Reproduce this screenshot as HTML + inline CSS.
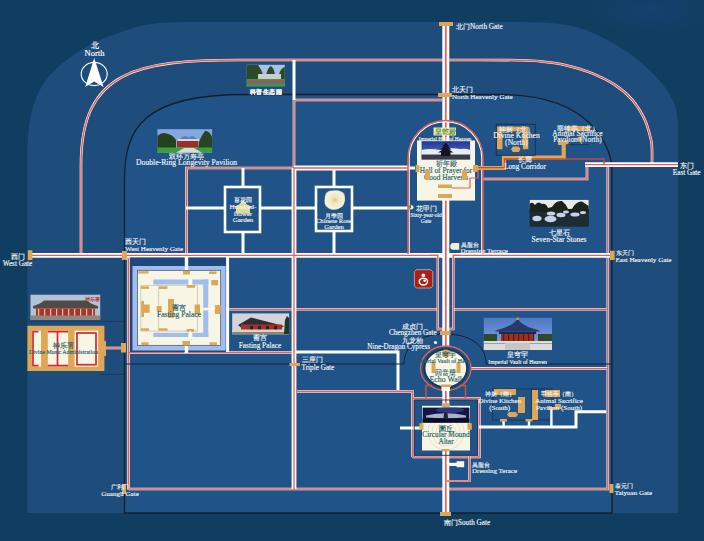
<!DOCTYPE html>
<html><head><meta charset="utf-8">
<style>
html,body{margin:0;padding:0;width:704px;height:541px;overflow:hidden;background:#103e60;}
svg{display:block;}
text{font-family:"Liberation Serif",serif;stroke-width:0.15;}
</style></head><body>
<svg width="704" height="541" viewBox="0 0 704 541">
<defs>
 <linearGradient id="sky" x1="0" y1="0" x2="0" y2="1"><stop offset="0" stop-color="#5d86c9"/><stop offset="1" stop-color="#b9cdea"/></linearGradient>
 <linearGradient id="nightsky" x1="0" y1="0" x2="0" y2="1"><stop offset="0" stop-color="#0d1440"/><stop offset="0.45" stop-color="#3a4f9a"/><stop offset="0.6" stop-color="#aab6dc"/><stop offset="0.75" stop-color="#242a50"/><stop offset="1" stop-color="#0a0c22"/></linearGradient>
 <radialGradient id="rose" cx="0.45" cy="0.45" r="0.6"><stop offset="0" stop-color="#f7f0c8"/><stop offset="0.6" stop-color="#e9dca0"/><stop offset="1" stop-color="#b9a86a"/></radialGradient>
</defs>
<rect x="0" y="0" width="704" height="541" fill="#103e60"/>
<radialGradient id="blob" cx="0.5" cy="0.5" r="0.5"><stop offset="0" stop-color="#1a3f78" stop-opacity="0.7"/><stop offset="1" stop-color="#1a3f78" stop-opacity="0"/></radialGradient>
<ellipse cx="650" cy="10" rx="60" ry="26" fill="url(#blob)"/>
<path d="M27.5,513 L27.5,200.0 C27.5,191.7 27.1,163.4 27.5,150.0 C27.9,136.6 28.3,129.0 30.0,119.8 C31.7,110.6 34.2,102.4 37.5,94.9 C40.8,87.4 44.6,81.2 50.0,74.9 C55.4,68.7 62.4,62.8 69.9,57.4 C77.4,52.0 86.6,46.5 94.9,42.4 C103.2,38.2 111.5,35.4 119.8,32.5 C128.1,29.6 136.4,26.7 144.8,25.0 C153.2,23.3 160.8,23.0 170.0,22.5 C179.2,22.0 185.0,22.1 200.0,22.0 C215.0,21.9 250.0,22.0 260.0,22.0 L470.0,22.0 C481.7,22.1 522.1,21.6 540.0,22.5 C557.9,23.4 567.0,25.0 577.4,27.5 C587.8,30.0 594.0,33.4 602.4,37.5 C610.8,41.6 620.5,47.2 628.0,52.3 C635.5,57.4 641.5,62.7 647.2,67.9 C652.9,73.1 657.9,78.4 662.0,83.4 C666.1,88.4 669.2,93.3 671.6,97.9 C674.0,102.5 675.4,105.7 676.5,111.0 C677.6,116.3 677.8,123.5 678.0,130.0 C678.2,136.5 678.0,146.7 678.0,150.0 L678,513 Z" fill="#1e4d7b"/>
<path d="M124.5,513 L124.5,180 C124.5,128.7 142.6,94.5 245,94.5 L500,94.5 C595.2,94.5 612,151.1 612,170 L612,513 Z" fill="#205387" stroke="#13202c" stroke-width="1.3"/>

<g fill="none" stroke="#fff" stroke-width="2.6">
<path d="M81,257 L81,165 C81,70.5 136.6,60 240,60 L480,60 C486.7,60.0 510.0,60.0 520.0,60.2 C530.0,60.4 532.5,60.4 540.0,61.2 C547.5,62.0 556.7,63.0 565.0,64.9 C573.3,66.8 581.6,69.1 589.9,72.4 C598.2,75.7 607.8,80.3 614.9,84.9 C622.0,89.5 627.3,94.1 632.3,99.9 C637.3,105.7 641.7,113.1 644.8,119.8 C647.9,126.5 649.8,134.8 651.0,139.8 C652.2,144.8 651.8,146.1 652.0,150.0 C652.2,153.9 652.0,160.8 652.0,163.0"/>
<path d="M294,100 L442,100"/>
<path d="M186.5,254 L186.5,168 L294,168 M294,168 L294,100"/>
<path d="M128.5,489 L128.5,257"/>
<path d="M220,309.3 L437.8,309.3 M453.3,309.3 L607.8,309.3"/>
<path d="M607.8,165 L607.8,489 L128.5,489"/>
<path d="M483,179 L587,179 L587,165"/>
<path d="M104,348 L121,348"/>
<path d="M128.5,352.5 L294,352.5"/>
<path d="M471,368.4 L607.8,368.4"/>
<path d="M297,391.5 L412.4,391.5 L412.4,457"/>
<path d="M412.4,398.3 L479.4,398.3 L479.4,457 L412.4,457"/>
</g><g fill="none" stroke="#e4605a" stroke-width="1.5">
<path d="M81,257 L81,165 C81,70.5 136.6,60 240,60 L480,60 C486.7,60.0 510.0,60.0 520.0,60.2 C530.0,60.4 532.5,60.4 540.0,61.2 C547.5,62.0 556.7,63.0 565.0,64.9 C573.3,66.8 581.6,69.1 589.9,72.4 C598.2,75.7 607.8,80.3 614.9,84.9 C622.0,89.5 627.3,94.1 632.3,99.9 C637.3,105.7 641.7,113.1 644.8,119.8 C647.9,126.5 649.8,134.8 651.0,139.8 C652.2,144.8 651.8,146.1 652.0,150.0 C652.2,153.9 652.0,160.8 652.0,163.0"/>
<path d="M294,100 L442,100"/>
<path d="M186.5,254 L186.5,168 L294,168 M294,168 L294,100"/>
<path d="M128.5,489 L128.5,257"/>
<path d="M220,309.3 L437.8,309.3 M453.3,309.3 L607.8,309.3"/>
<path d="M607.8,165 L607.8,489 L128.5,489"/>
<path d="M483,179 L587,179 L587,165"/>
<path d="M104,348 L121,348"/>
<path d="M128.5,352.5 L294,352.5"/>
<path d="M471,368.4 L607.8,368.4"/>
<path d="M297,391.5 L412.4,391.5 L412.4,457"/>
<path d="M412.4,398.3 L479.4,398.3 L479.4,457 L412.4,457"/>
</g>
<g fill="none" stroke="#fff" stroke-width="3">
<path d="M294,60 L294,100"/>
<path d="M243,168 L243,186 M243,232 L243,254 M186,208 L224,208 M261,208 L294,208"/>
<path d="M334,168 L334,186 M334,231 L334,254 M296,208 L315,208 M353,208 L408,208"/>
<path d="M408,168 L415,168"/>
<path d="M186,255 L186,266 M186,350 L186,353"/>
<path d="M294,352 L398,352 L398,390"/>
<path d="M606,411.7 L576,411.7 L576,427 L479,427"/>
<path d="M400,428 L421,428"/>
</g>
<g fill="none" stroke="#fff" stroke-width="4.8">
<path d="M32,255.3 L610,255.3"/>
<path d="M294,168 L408,168 M294,168 L294,489"/>
<path d="M585,164.7 L678,164.7"/>
</g><g fill="none" stroke="#e4605a" stroke-width="1.3">
<path d="M32,255.3 L610,255.3"/>
<path d="M294,168 L408,168 M294,168 L294,489"/>
<path d="M585,164.7 L678,164.7"/>
</g>
<path d="M437.8,255.4 L437.8,329 L453.3,329 L453.3,255.4" fill="none" stroke="#fff" stroke-width="2.4"/>
<rect x="438.5" y="254" width="14" height="2.8" fill="#fff"/>
<path d="M430,255.4 L437.8,255.4 L437.8,329 L453.3,329 L453.3,255.4 L460,255.4" fill="none" stroke="#e4605a" stroke-width="1.4"/>
<g fill="none" stroke="#fff" stroke-width="7">
<path d="M445.8,22 L445.8,513"/>
</g><g fill="none" stroke="#e4605a" stroke-width="1.7">
<path d="M445.8,22 L445.8,513"/>
</g>
<path d="M409.2,254 L409.2,158 A36.3,36.3 0 0 1 481.8,158 L481.8,254" fill="none" stroke="#fff" stroke-width="1.2"/>
<path d="M408,254 L408,158 A37.5,37.5 0 0 1 483,158 L483,254" fill="none" stroke="#e4605a" stroke-width="1.5"/>
<path d="M124.5,364 L404,364 C404,345 420,334 445,334 C470,334 486,345 486,364 L612,364" fill="none" stroke="#142330" stroke-width="1"/>
<rect x="225" y="187" width="35" height="45" fill="none" stroke="#fff" stroke-width="2.6"/>
<rect x="316" y="187" width="36" height="44" fill="none" stroke="#fff" stroke-width="2.6"/>
<rect x="130.00" y="257.50" width="96.00" height="94.50" fill="#1d497c" />
<rect x="132.50" y="266.00" width="93.20" height="84.50" fill="#a2bcec" />
<rect x="137.50" y="270.30" width="83.20" height="75.00" fill="#f7f6e5" stroke="#38506a" stroke-width="0.7"/>
<rect x="153.30" y="279.50" width="35.00" height="5.00" fill="#a2bcec" />
<rect x="192.40" y="279.50" width="15.90" height="5.00" fill="#a2bcec" />
<rect x="203.20" y="279.50" width="5.10" height="28.30" fill="#a2bcec" />
<rect x="203.20" y="310.30" width="5.10" height="26.70" fill="#a2bcec" />
<rect x="192.40" y="332.80" width="15.90" height="4.20" fill="#a2bcec" />
<rect x="153.30" y="332.80" width="35.00" height="4.20" fill="#a2bcec" />
<rect x="140.8" y="285.3" width="56.6" height="45.7" fill="none" stroke="#c4c4b4" stroke-width="0.8"/>
<line x1="158.6" y1="285.3" x2="158.6" y2="331" stroke="#c4c4b4" stroke-width="0.8"/>
<rect x="138.30" y="271.20" width="10.30" height="2.40" fill="#dea757" />
<rect x="183.00" y="271.00" width="7.00" height="3.50" fill="#dea757" />
<rect x="209.00" y="271.50" width="7.50" height="2.50" fill="#dea757" />
<rect x="211.30" y="280.00" width="6.70" height="5.30" fill="#dea757" />
<rect x="140.80" y="286.30" width="8.20" height="2.60" fill="#dea757" />
<rect x="159.00" y="286.30" width="8.50" height="2.60" fill="#dea757" />
<rect x="186.60" y="285.00" width="8.40" height="2.80" fill="#dea757" />
<rect x="141.30" y="301.00" width="2.70" height="16.00" fill="#dea757" />
<rect x="141.30" y="304.50" width="8.30" height="8.30" fill="#dea757" />
<rect x="156.60" y="306.00" width="5.00" height="5.00" fill="#dea757" />
<rect x="168.00" y="299.00" width="6.00" height="18.80" fill="#dea757" />
<rect x="194.60" y="304.50" width="5.40" height="10.00" fill="#dea757" />
<rect x="215.00" y="305.00" width="5.70" height="9.00" fill="#dea757" />
<rect x="140.80" y="328.30" width="8.20" height="2.50" fill="#dea757" />
<rect x="159.00" y="328.30" width="8.50" height="2.50" fill="#dea757" />
<rect x="186.60" y="329.00" width="7.40" height="3.00" fill="#dea757" />
<rect x="141.30" y="342.30" width="7.30" height="2.70" fill="#dea757" />
<rect x="182.50" y="341.00" width="7.50" height="4.30" fill="#dea757" />
<rect x="209.60" y="342.30" width="7.40" height="2.70" fill="#dea757" />
<g fill="none" stroke="#fff" stroke-width="3.4">
<path d="M186.5,256 L186.5,270 M186.5,346 L186.5,353"/>
</g>
<g fill="none" stroke="#fff" stroke-width="3">
<path d="M227.6,257 L227.6,352"/>
</g>
<g fill="none" stroke="#fff" stroke-width="1.6">
<path d="M190.3,279 L190.3,285 M190.3,331 L190.3,338 M205.7,307.8 L205.7,310.3 M208,309 L215,309"/>
</g>
<text x="179.00" y="309.50" font-size="7.4" text-anchor="middle" fill="#246068" stroke="#246068" stroke-width="0.3" >斋宫</text>
<text x="179.00" y="317.00" font-size="7.6" text-anchor="middle" fill="#246068" stroke="#246068" stroke-width="0.3" >Fasting Palace</text>
<path d="M28,321.4 L124,321.4 M100,374.4 L124,374.4" stroke="#1a3550" stroke-width="0.8" fill="none"/>
<rect x="27.40" y="325.80" width="77.00" height="45.20" fill="#dea757" />
<rect x="32.00" y="330.60" width="9.00" height="36.10" fill="#f7f6e5" />
<rect x="47.80" y="330.60" width="20.40" height="36.10" fill="#f7f6e5" />
<rect x="74.50" y="330.60" width="23.60" height="36.10" fill="#f7f6e5" />
<path d="M38.5,331.6 L33,331.6 L33,365.7 L38.5,365.7" fill="none" stroke="#d22a2c" stroke-width="1.7"/>
<path d="M47.8,331.6 L68.2,331.6 M57.5,331.6 L57.5,365.7 M47.8,365.7 L68.2,365.7" fill="none" stroke="#d22a2c" stroke-width="1.7"/>
<rect x="77" y="333" width="19" height="31.7" fill="none" stroke="#d22a2c" stroke-width="1.7"/>
<rect x="102.00" y="341.00" width="4.00" height="15.00" fill="#dea757" />
<text x="63.50" y="347.50" font-size="6.8" text-anchor="middle" fill="#2a6066" stroke="#2a6066" stroke-width="0.3" >神乐署</text>
<text x="63.50" y="353.50" font-size="5.9" text-anchor="middle" fill="#2a6066" stroke="#2a6066" stroke-width="0.3" >Divine Music Administration</text>
<rect x="417.00" y="140.50" width="58.00" height="60.10" fill="#f7f6e5" />
<rect x="433.50" y="127.50" width="22.50" height="8.00" fill="#f1e6b0" />
<text x="445.00" y="134.20" font-size="6.5" text-anchor="middle" fill="#3f8a3a" stroke="#3f8a3a" stroke-width="0.3" >皇乾殿</text>
<text x="445.00" y="140.50" font-size="5.4" text-anchor="middle" fill="#f4f0da" stroke="#f4f0da" stroke-width="0.3" >Imperial Hall of Heaven</text>
<text x="446.00" y="165.50" font-size="7" text-anchor="middle" fill="#246068" stroke="#246068" stroke-width="0.3" >祈年殿</text>
<text x="446.00" y="173.00" font-size="7.4" text-anchor="middle" fill="#246068" stroke="#246068" stroke-width="0.3" >Hall of Prayer for</text>
<text x="446.00" y="180.00" font-size="7.4" text-anchor="middle" fill="#246068" stroke="#246068" stroke-width="0.3" >Good Harvests</text>
<rect x="415.60" y="165.00" width="3.90" height="7.00" fill="#dea757" />
<rect x="473.00" y="165.00" width="5.00" height="7.00" fill="#dea757" />
<rect x="425.00" y="170.00" width="5.00" height="10.00" fill="#dea757" />
<rect x="462.00" y="170.00" width="5.00" height="10.00" fill="#dea757" />
<rect x="438.00" y="184.50" width="14.00" height="3.50" fill="#dea757" />
<rect x="438.00" y="194.00" width="14.00" height="4.00" fill="#dea757" />
<path d="M452,188 L470,188 L470,178 L478,178 L478,168 L483,168" fill="none" stroke="#e4605a" stroke-width="1.2"/>
<path d="M476,168 L504,168 L504,157.5 L563.7,157.5 L563.7,143" fill="none" stroke="#dea757" stroke-width="4.2"/>
<rect x="558.00" y="140.50" width="10.50" height="4.50" fill="#dea757" />
<path d="M478,167.6 L504.5,167.6 L504.5,159 L604,159 L604,165" fill="none" stroke="#cc4a36" stroke-width="1.3"/>
<rect x="496.25" y="124.25" width="39" height="31" fill="none" stroke="#15304f" stroke-width="0.9"/>
<rect x="497.00" y="131.30" width="5.50" height="17.95" fill="#dea757" />
<rect x="522.80" y="131.30" width="5.50" height="17.95" fill="#dea757" />
<rect x="502.50" y="126.60" width="20.30" height="4.70" fill="#dea757" />
<rect x="497.00" y="126.60" width="5.50" height="4.70" fill="#dea757" />
<rect x="522.80" y="126.60" width="5.50" height="4.70" fill="#dea757" />
<polygon points="512.8,146.5 518.8,146.5 520.5,149.25 518.8,152 512.8,152 511,149.25" fill="#dea757"/>
<rect x="566.50" y="126.00" width="23.50" height="5.00" fill="#dea757" />
<circle cx="579.8" cy="139.1" r="2.7" fill="#dea757"/>
<line x1="566" y1="144.6" x2="589" y2="144.6" stroke="#15304f" stroke-width="0.7"/>
<ellipse cx="445.8" cy="368.2" rx="25.2" ry="22.2" fill="#205387" stroke="#e4605a" stroke-width="1.3"/>
<ellipse cx="445.8" cy="368.3" rx="21.4" ry="18.9" fill="#f7f6e5" stroke="#17365a" stroke-width="2.1"/>
<rect x="441.50" y="386.00" width="8.50" height="5.00" fill="#fff" />
<circle cx="445.8" cy="353.5" r="4" fill="#dea757"/>
<rect x="431.50" y="362.00" width="4.00" height="11.00" fill="#dea757" />
<rect x="456.50" y="362.00" width="4.00" height="11.00" fill="#dea757" />
<rect x="441.00" y="384.50" width="10.00" height="2.50" fill="#dea757" />
<text x="445.80" y="356.50" font-size="6.6" text-anchor="middle" fill="#246068" stroke="#246068" stroke-width="0.3" >皇穹宇</text>
<text x="445.80" y="362.50" font-size="6" text-anchor="middle" fill="#246068" stroke="#246068" stroke-width="0.3" >Imperial Vault of Heaven</text>
<text x="445.80" y="374.50" font-size="6.6" text-anchor="middle" fill="#246068" stroke="#246068" stroke-width="0.3" >回音壁</text>
<text x="445.80" y="381.50" font-size="7.8" text-anchor="middle" fill="#246068" stroke="#246068" stroke-width="0.3" >Echo Wall</text>
<path d="M432,385.5 L426,385.5 L426,398 M459.5,385.5 L465.5,385.5 L465.5,398" fill="none" stroke="#d4503e" stroke-width="1.4"/>
<circle cx="435.5" cy="342.5" r="1.6" fill="#fff"/>
<rect x="414.2" y="400" width="63.4" height="55.3" fill="none" stroke="#17365a" stroke-width="0.9"/>
<rect x="422.00" y="405.80" width="48.00" height="44.70" fill="#f7f6e5" />
<circle cx="446" cy="432" r="6" fill="none" stroke="#cfcab0" stroke-width="0.5"/>
<circle cx="446" cy="432" r="10" fill="none" stroke="#cfcab0" stroke-width="0.5"/>
<circle cx="446" cy="432" r="14" fill="none" stroke="#cfcab0" stroke-width="0.5"/>
<circle cx="446" cy="432" r="18" fill="none" stroke="#cfcab0" stroke-width="0.5"/>
<rect x="441.80" y="403.40" width="7.80" height="3.60" fill="#dea757" />
<rect x="419.40" y="423.20" width="4.00" height="6.60" fill="#dea757" />
<rect x="467.40" y="423.20" width="4.40" height="6.60" fill="#dea757" />
<rect x="441.80" y="449.00" width="7.80" height="2.40" fill="#dea757" />
<text x="446.00" y="430.50" font-size="7" text-anchor="middle" fill="#246068" stroke="#246068" stroke-width="0.3" >圜丘</text>
<text x="446.00" y="437.00" font-size="7.4" text-anchor="middle" fill="#246068" stroke="#246068" stroke-width="0.3" >Circular Mound</text>
<text x="446.00" y="443.50" font-size="7.4" text-anchor="middle" fill="#246068" stroke="#246068" stroke-width="0.3" >Altar</text>
<g fill="none" stroke="#fff" stroke-width="2.2">
<path d="M469.4,456 L469.4,481 L446,481"/>
</g><g fill="none" stroke="#e4605a" stroke-width="1.3">
<path d="M469.4,456 L469.4,481 L446,481"/>
</g>
<rect x="448.80" y="462.80" width="8.20" height="3.20" fill="#f7f6e5" />
<rect x="456.60" y="461.20" width="7.60" height="6.00" fill="#f7f6e5" />
<path d="M450.3,245 L452,243.1 L459.2,243.1 L459.2,249.8 L452,249.8 L450.3,248 Z" fill="#f4f0d8"/>
<rect x="492.7" y="389" width="39.3" height="31" fill="none" stroke="#15304f" stroke-width="0.8"/>
<rect x="532" y="389" width="20" height="31" fill="none" stroke="#15304f" stroke-width="0.8"/>
<rect x="494.00" y="389.00" width="22.00" height="6.00" fill="#dea757" />
<rect x="518.00" y="397.00" width="7.00" height="16.00" fill="#dea757" />
<rect x="532.00" y="390.00" width="6.00" height="30.00" fill="#dea757" />
<rect x="545.00" y="390.00" width="15.00" height="7.00" fill="#dea757" />
<rect x="555.00" y="404.00" width="6.00" height="5.00" fill="#dea757" />
<polygon points="509,412 516,412 518,414.5 516,417 509,417 507,414.5" fill="#dea757"/>
<g fill="none" stroke="#fff" stroke-width="2.4">
<path d="M503.6,420 L503.6,427 M529,420 L529,427 M551.4,408 L551.4,427"/>
</g>
<rect x="500.00" y="419.00" width="7.00" height="2.50" fill="#dea757" />
<rect x="525.50" y="419.00" width="7.00" height="2.50" fill="#dea757" />
<rect x="548.00" y="407.00" width="7.00" height="2.50" fill="#dea757" />
<polygon points="416.4,269.7 430.8,269.7 432.8,271.7 432.8,286 430.8,288 416.4,288 414.4,286 414.4,271.7" fill="#ad1f16" stroke="#e6c0bc" stroke-width="0.7"/>
<circle cx="423.3" cy="275.4" r="1.8" fill="#fff"/>
<ellipse cx="423.4" cy="281.6" rx="4.1" ry="3.4" fill="none" stroke="#fff" stroke-width="1.5"/>
<circle cx="424.6" cy="280.8" r="1.3" fill="#fff"/>
<rect x="246.8" y="64.8" width="38" height="21.4" fill="#a9c1e6"/>
<path d="M246.8,81 L246.8,65 L258,65 Q262,70 263,75 L266,75 Q268,67 271,66 Q274,68 275,75 L279,74 Q281,68 284.8,67 L284.8,81 Z" fill="#2c4a26"/>
<rect x="258.00" y="74.00" width="23.00" height="5.00" fill="#c9ccd2" />
<rect x="246.80" y="79.00" width="38.00" height="7.20" fill="#3f9a3c" />
<rect x="246.80" y="80.50" width="38.00" height="1.50" fill="#b04a4a" />
<rect x="246.80" y="82.50" width="38.00" height="1.50" fill="#7a5a9a" />
<rect x="157.5" y="129.2" width="54.6" height="23.6" fill="#86a6e0"/>
<path d="M157.5,152 L157.5,136 Q162,131 168,134 Q173,135 176,140 L176,150 Z" fill="#24421f"/>
<path d="M212.1,152 L212.1,137 Q209,130 205,131 Q201,136 199,142 L198,150 Z" fill="#27461f"/>
<path d="M180,139 Q185,133 190,139 Z M187,139 Q192,133 197,139 Z" fill="#4c86c8"/>
<rect x="178.00" y="139.00" width="21.00" height="2.00" fill="#d8d8c8" />
<rect x="177.00" y="141.00" width="21.00" height="6.50" fill="#9c2e26" />
<rect x="157.50" y="147.50" width="54.60" height="5.30" fill="#3f9c3e" />
<path d="M176,152.8 L184,148 L194,148 L202,152.8 Z" fill="#d6dcd8"/>
<rect x="30.5" y="294.7" width="69.7" height="24.9" fill="#b4c2d6"/>
<path d="M33,306 Q40,304 44,300.5 L87,300.5 Q91,304 98,306 L98,308.5 L33,308.5 Z" fill="#4d4a48"/>
<rect x="36.00" y="308.50" width="59.00" height="7.50" fill="#a8342a" />
<rect x="38.00" y="309.00" width="1.20" height="7.00" fill="#d9c8b0" />
<rect x="44.00" y="309.00" width="1.20" height="7.00" fill="#d9c8b0" />
<rect x="50.00" y="309.00" width="1.20" height="7.00" fill="#d9c8b0" />
<rect x="56.00" y="309.00" width="1.20" height="7.00" fill="#d9c8b0" />
<rect x="62.00" y="309.00" width="1.20" height="7.00" fill="#d9c8b0" />
<rect x="68.00" y="309.00" width="1.20" height="7.00" fill="#d9c8b0" />
<rect x="74.00" y="309.00" width="1.20" height="7.00" fill="#d9c8b0" />
<rect x="80.00" y="309.00" width="1.20" height="7.00" fill="#d9c8b0" />
<rect x="86.00" y="309.00" width="1.20" height="7.00" fill="#d9c8b0" />
<rect x="92.00" y="309.00" width="1.20" height="7.00" fill="#d9c8b0" />
<rect x="30.50" y="315.50" width="69.70" height="4.10" fill="#8d8780" />
<text x="92.00" y="300.50" font-size="4.6" text-anchor="middle" fill="#c0302a" stroke="#c0302a" stroke-width="0.3" >神乐署</text>
<rect x="232.2" y="313.4" width="56.9" height="20.8" fill="#d3d3da"/>
<path d="M251,317.5 L284,326 L282,327.5 L241,327.5 L238,325 Z" fill="#2f2e36"/>
<rect x="241.00" y="324.50" width="41.00" height="6.50" fill="#a4302c" />
<rect x="250.00" y="326.00" width="3.00" height="5.00" fill="#3a1a1a" />
<rect x="258.00" y="326.00" width="3.00" height="5.00" fill="#3a1a1a" />
<rect x="266.00" y="326.00" width="3.00" height="5.00" fill="#3a1a1a" />
<rect x="274.00" y="326.00" width="3.00" height="5.00" fill="#3a1a1a" />
<rect x="232.20" y="329.50" width="56.90" height="4.70" fill="#d9d2c6" />
<rect x="232.20" y="332.00" width="56.90" height="2.20" fill="#8e8478" />
<path d="M284,334 L285,320 L287,316 L289.1,318 L289.1,334 Z" fill="#24361f"/>
<linearGradient id="hpsky" x1="0" y1="0" x2="0" y2="1"><stop offset="0" stop-color="#23379a"/><stop offset="1" stop-color="#5d7cc8"/></linearGradient>
<rect x="421.6" y="141.2" width="48.5" height="18.3" fill="url(#hpsky)"/>
<path d="M421.6,150 Q430,148 440,150 Q450,147 460,149 Q466,148 470.1,150 L470.1,155 L421.6,155 Z" fill="#e9ecf4"/>
<rect x="421.6" y="154.5" width="48.5" height="5" fill="#3a3a48"/>
<path d="M445.8,142.6 L449.5,146.5 L447.5,146.5 L451.5,149.5 L449,149.5 L453.5,152.5 L450.5,152.5 L450.5,156 L441,156 L441,152.5 L438,152.5 L442.5,149.5 L440,149.5 L444,146.5 L442,146.5 Z" fill="#141420"/>
<rect x="529.8" y="199.9" width="58.8" height="26.6" fill="#1c2a2c"/>
<rect x="529.8" y="199.9" width="58.8" height="9" fill="#eceae4"/>
<path d="M529.8,213 L529.8,204 Q532,201 535,205 Q538,200.5 542,204 Q546,203 548,208 L552,207 Q556,200 562,201 Q566,204 568,209 L572,209 Q576,201 582,201.5 Q586,204 588.6,206 L588.6,213 Z" fill="#1b231c"/>
<rect x="529.80" y="212.00" width="58.80" height="14.50" fill="#1d2c30" />
<ellipse cx="537" cy="218.5" rx="4.6" ry="2.8" fill="#c9cfe6"/>
<ellipse cx="550.5" cy="219" rx="6" ry="3.2" fill="#c9cfe6"/>
<ellipse cx="551" cy="213.5" rx="4.2" ry="2" fill="#c9cfe6"/>
<ellipse cx="561" cy="215" rx="4.5" ry="2.2" fill="#c9cfe6"/>
<ellipse cx="575" cy="214.5" rx="4.6" ry="2" fill="#c9cfe6"/>
<ellipse cx="583" cy="212.5" rx="3" ry="1.5" fill="#c9cfe6"/>
<ellipse cx="566" cy="212" rx="3" ry="1.4" fill="#c9cfe6"/>
<linearGradient id="vsky" x1="0" y1="0" x2="0" y2="1"><stop offset="0" stop-color="#4f78c4"/><stop offset="1" stop-color="#86a6de"/></linearGradient>
<rect x="483.8" y="317.8" width="68.2" height="32.2" fill="url(#vsky)"/>
<rect x="483.80" y="334.00" width="13.20" height="9.00" fill="#2e4a2a" />
<rect x="538.00" y="334.00" width="14.00" height="9.00" fill="#2e4a2a" />
<path d="M517.6,318.5 Q514,325 502,328.5 Q496,330 495,331.5 L540,331.5 Q539,330 533,328.5 Q521,325 517.6,318.5 Z" fill="#263a6c"/>
<rect x="516.50" y="317.50" width="2.20" height="2.50" fill="#c9a040" />
<rect x="499.00" y="331.50" width="37.00" height="2.50" fill="#1d2a50" />
<rect x="501.00" y="334.00" width="33.00" height="8.00" fill="#9a3024" />
<rect x="503.00" y="334.00" width="1.20" height="8.00" fill="#5a1a14" />
<rect x="508.00" y="334.00" width="1.20" height="8.00" fill="#5a1a14" />
<rect x="513.00" y="334.00" width="1.20" height="8.00" fill="#5a1a14" />
<rect x="518.00" y="334.00" width="1.20" height="8.00" fill="#5a1a14" />
<rect x="523.00" y="334.00" width="1.20" height="8.00" fill="#5a1a14" />
<rect x="528.00" y="334.00" width="1.20" height="8.00" fill="#5a1a14" />
<rect x="533.00" y="334.00" width="1.20" height="8.00" fill="#5a1a14" />
<rect x="483.80" y="341.00" width="68.20" height="9.00" fill="#dcdcdc" />
<rect x="483.80" y="343.00" width="68.20" height="1.00" fill="#a0a0a0" />
<rect x="505.00" y="343.00" width="25.00" height="7.00" fill="#c6c6c6" />
<rect x="422.6" y="407.6" width="46.8" height="15" fill="#10164a"/>
<ellipse cx="450" cy="410" rx="14" ry="3" fill="#3a50a0" opacity="0.6"/>
<path d="M426,415.5 Q446,411 466,415.5 L466,417.5 Q446,419 426,417.5 Z" fill="#c8cce0" opacity="0.85"/>
<path d="M443.5,418 L444,413.5 Q445.8,412 447.6,413.5 L448,418 Z" fill="#20203a"/>
<rect x="422.6" y="418.5" width="46.8" height="4.1" fill="#0a0c26"/>
<radialGradient id="rose2" cx="0.5" cy="0.5" r="0.55"><stop offset="0" stop-color="#e2c878"/><stop offset="0.35" stop-color="#f1e8c2"/><stop offset="0.85" stop-color="#f6f2de"/><stop offset="1" stop-color="#cfc6a0"/></radialGradient>
<path d="M325,196 Q326,190 333,190.5 Q341,189.5 344.5,194 Q346,201 343,206 Q338,210.5 331,209.5 Q324,207 324.5,201 Z" fill="url(#rose2)"/>
<path d="M243,200 L247,204.5 L253.5,207.3 L250,207.3 L250,213.5 L236,213.5 L236,207.3 L232.5,207.3 L239,204.5 Z" fill="#ece89a" opacity="0.92"/>
<ellipse cx="94.2" cy="74" rx="13" ry="11.6" fill="none" stroke="#fff" stroke-width="1.1"/>
<path d="M94.2,58 L103.6,87 L94.2,81.5 L85.2,87 Z" fill="#fff"/>
<text x="94.50" y="48.00" font-size="7.5" text-anchor="middle" fill="#fff" stroke="#fff" stroke-width="0.3" >北</text>
<text x="94.50" y="56.00" font-size="8.5" text-anchor="middle" fill="#fff" stroke="#fff" stroke-width="0.3" >North</text>
<rect x="439.00" y="22.00" width="14.00" height="4.00" fill="#dea757" />
<rect x="438.00" y="93.00" width="14.00" height="4.00" fill="#dea757" />
<rect x="27.80" y="250.30" width="4.60" height="9.70" fill="#dea757" />
<rect x="122.00" y="251.00" width="5.00" height="9.00" fill="#dea757" />
<rect x="610.00" y="250.80" width="4.60" height="9.20" fill="#dea757" />
<rect x="121.00" y="343.00" width="5.00" height="9.50" fill="#dea757" />
<rect x="122.00" y="484.00" width="4.00" height="10.00" fill="#dea757" />
<rect x="609.50" y="484.00" width="3.90" height="9.00" fill="#dea757" />
<rect x="440.00" y="512.00" width="11.00" height="4.00" fill="#dea757" />
<rect x="440.00" y="331.00" width="10.50" height="4.00" fill="#dea757" />
<rect x="289.50" y="363.00" width="10.50" height="3.00" fill="#dea757" />
<text x="456.00" y="29.00" font-size="7.3" text-anchor="start" fill="#f2f2f2" stroke="#f2f2f2" stroke-width="0.3" >北门North Gate</text>
<text x="452.00" y="91.50" font-size="6.532" text-anchor="start" fill="#f2f2f2" stroke="#f2f2f2" stroke-width="0.3" >北天门</text>
<text x="452.00" y="98.70" font-size="7.1" text-anchor="start" fill="#f2f2f2" stroke="#f2f2f2" stroke-width="0.3" >North Heavenly Gate</text>
<text x="266.00" y="94.00" font-size="6.4" text-anchor="middle" fill="#f2f2f2" stroke="#f2f2f2" stroke-width="0.3" font-weight="bold" letter-spacing="0.5">科普生态园</text>
<text x="186.60" y="158.50" font-size="7.0840000000000005" text-anchor="middle" fill="#f2f2f2" stroke="#f2f2f2" stroke-width="0.3" >双环万寿亭</text>
<text x="186.60" y="165.10" font-size="7.7" text-anchor="middle" fill="#f2f2f2" stroke="#f2f2f2" stroke-width="0.3" >Double-Ring Longevity Pavilion</text>
<text x="243.00" y="202.00" font-size="6.44" text-anchor="middle" fill="#f2f2f2" stroke="#f2f2f2" stroke-width="0.3" >百花园</text>
<text x="243.00" y="208.80" font-size="7" text-anchor="middle" fill="#f2f2f2" stroke="#f2f2f2" stroke-width="0.3" >Hundred-</text>
<text x="243.00" y="215.60" font-size="7" text-anchor="middle" fill="#f2f2f2" stroke="#f2f2f2" stroke-width="0.3" >flower</text>
<text x="243.00" y="222.40" font-size="7" text-anchor="middle" fill="#f2f2f2" stroke="#f2f2f2" stroke-width="0.3" >Garden</text>
<text x="334.00" y="218.00" font-size="6.072" text-anchor="middle" fill="#f2f2f2" stroke="#f2f2f2" stroke-width="0.3" >月季园</text>
<text x="334.00" y="223.40" font-size="6.6" text-anchor="middle" fill="#f2f2f2" stroke="#f2f2f2" stroke-width="0.3" >Chinese Rose</text>
<text x="334.00" y="228.80" font-size="6.6" text-anchor="middle" fill="#f2f2f2" stroke="#f2f2f2" stroke-width="0.3" >Garden</text>
<text x="17.50" y="259.00" font-size="6.6240000000000006" text-anchor="middle" fill="#f2f2f2" stroke="#f2f2f2" stroke-width="0.3" >西门</text>
<text x="17.50" y="266.00" font-size="7.2" text-anchor="middle" fill="#f2f2f2" stroke="#f2f2f2" stroke-width="0.3" >West Gate</text>
<text x="125.00" y="244.00" font-size="6.532" text-anchor="start" fill="#f2f2f2" stroke="#f2f2f2" stroke-width="0.3" >西天门</text>
<text x="125.00" y="251.00" font-size="7.1" text-anchor="start" fill="#f2f2f2" stroke="#f2f2f2" stroke-width="0.3" >West Heavenly Gate</text>
<text x="686.70" y="168.00" font-size="6.6240000000000006" text-anchor="middle" fill="#f2f2f2" stroke="#f2f2f2" stroke-width="0.3" >东门</text>
<text x="686.70" y="175.00" font-size="7.2" text-anchor="middle" fill="#f2f2f2" stroke="#f2f2f2" stroke-width="0.3" >East Gate</text>
<text x="559.00" y="234.50" font-size="6.9" text-anchor="middle" fill="#f2f2f2" stroke="#f2f2f2" stroke-width="0.3" >七星石</text>
<text x="559.00" y="241.50" font-size="7.5" text-anchor="middle" fill="#f2f2f2" stroke="#f2f2f2" stroke-width="0.3" >Seven-Star Stones</text>
<text x="615.50" y="254.50" font-size="6.486" text-anchor="start" fill="#f2f2f2" stroke="#f2f2f2" stroke-width="0.3" >东天门</text>
<text x="615.50" y="261.70" font-size="7.05" text-anchor="start" fill="#f2f2f2" stroke="#f2f2f2" stroke-width="0.3" >East Heavenly Gate</text>
<text x="516.50" y="131.50" font-size="6.992" text-anchor="middle" fill="#f2f2f2" stroke="#f2f2f2" stroke-width="0.3" >神厨（北）</text>
<text x="516.50" y="138.00" font-size="7.6" text-anchor="middle" fill="#f2f2f2" stroke="#f2f2f2" stroke-width="0.3" >Divine Kitchen</text>
<text x="516.50" y="144.50" font-size="7.6" text-anchor="middle" fill="#f2f2f2" stroke="#f2f2f2" stroke-width="0.3" >(North)</text>
<text x="577.50" y="130.50" font-size="6.808000000000001" text-anchor="middle" fill="#f2f2f2" stroke="#f2f2f2" stroke-width="0.3" >宰牲亭（北）</text>
<text x="577.50" y="136.10" font-size="7.4" text-anchor="middle" fill="#f2f2f2" stroke="#f2f2f2" stroke-width="0.3" >Animal Sacrifice</text>
<text x="577.50" y="141.70" font-size="7.4" text-anchor="middle" fill="#f2f2f2" stroke="#f2f2f2" stroke-width="0.3" >Pavilion (North)</text>
<text x="525.00" y="162.00" font-size="6.6240000000000006" text-anchor="middle" fill="#f2f2f2" stroke="#f2f2f2" stroke-width="0.3" >长廊</text>
<text x="525.00" y="169.00" font-size="7.2" text-anchor="middle" fill="#f2f2f2" stroke="#f2f2f2" stroke-width="0.3" >Long Corridor</text>
<circle cx="411.3" cy="207.3" r="2.4" fill="#f0f0f0" stroke="#3a8a3a" stroke-width="0.7"/>
<path d="M409,207 L411,205.5 L411,208.5 Z" fill="#a02020"/>
<text x="416.00" y="210.50" font-size="7" text-anchor="start" fill="#f2f2f2" stroke="#f2f2f2" stroke-width="0.3" >花甲门</text>
<text x="426.00" y="216.50" font-size="5.5" text-anchor="middle" fill="#f2f2f2" stroke="#f2f2f2" stroke-width="0.3" >Sixty-year-old</text>
<text x="426.00" y="222.50" font-size="5.5" text-anchor="middle" fill="#f2f2f2" stroke="#f2f2f2" stroke-width="0.3" >Gate</text>
<text x="460.50" y="247.20" font-size="6.44" text-anchor="start" fill="#f2f2f2" stroke="#f2f2f2" stroke-width="0.3" >具服台</text>
<text x="460.50" y="252.80" font-size="7" text-anchor="start" fill="#f2f2f2" stroke="#f2f2f2" stroke-width="0.3" >Dressing Terrace</text>
<text x="412.80" y="328.50" font-size="6.6240000000000006" text-anchor="middle" fill="#f2f2f2" stroke="#f2f2f2" stroke-width="0.3" >成贞门</text>
<text x="412.80" y="335.00" font-size="7.2" text-anchor="middle" fill="#f2f2f2" stroke="#f2f2f2" stroke-width="0.3" >Chengzhen Gate</text>
<text x="412.00" y="342.50" font-size="6.6240000000000006" text-anchor="middle" fill="#f2f2f2" stroke="#f2f2f2" stroke-width="0.3" >九龙柏</text>
<text x="398.70" y="349.00" font-size="7.2" text-anchor="middle" fill="#f2f2f2" stroke="#f2f2f2" stroke-width="0.3" >Nine-Dragon Cypress</text>
<text x="517.60" y="356.50" font-size="7" text-anchor="middle" fill="#f2f2f2" stroke="#f2f2f2" stroke-width="0.3" >皇穹宇</text>
<text x="517.60" y="363.50" font-size="5.8" text-anchor="middle" fill="#f2f2f2" stroke="#f2f2f2" stroke-width="0.3" >Imperial Vault of Heaven</text>
<text x="301.60" y="362.00" font-size="6.6240000000000006" text-anchor="start" fill="#f2f2f2" stroke="#f2f2f2" stroke-width="0.3" >三座门</text>
<text x="301.60" y="370.00" font-size="7.2" text-anchor="start" fill="#f2f2f2" stroke="#f2f2f2" stroke-width="0.3" >Triple Gate</text>
<text x="260.00" y="340.00" font-size="6.716" text-anchor="middle" fill="#f2f2f2" stroke="#f2f2f2" stroke-width="0.3" >斋宫</text>
<text x="260.00" y="347.50" font-size="7.3" text-anchor="middle" fill="#f2f2f2" stroke="#f2f2f2" stroke-width="0.3" >Fasting Palace</text>
<text x="499.70" y="396.00" font-size="6.44" text-anchor="middle" fill="#f2f2f2" stroke="#f2f2f2" stroke-width="0.3" >神厨（南）</text>
<text x="499.70" y="403.00" font-size="7" text-anchor="middle" fill="#f2f2f2" stroke="#f2f2f2" stroke-width="0.3" >Divine Kitchen</text>
<text x="499.70" y="410.00" font-size="7" text-anchor="middle" fill="#f2f2f2" stroke="#f2f2f2" stroke-width="0.3" >(South)</text>
<text x="559.00" y="396.00" font-size="6.44" text-anchor="middle" fill="#f2f2f2" stroke="#f2f2f2" stroke-width="0.3" >宰牲亭（南）</text>
<text x="559.00" y="403.00" font-size="7" text-anchor="middle" fill="#f2f2f2" stroke="#f2f2f2" stroke-width="0.3" >Animal Sacrifice</text>
<text x="559.00" y="410.00" font-size="7" text-anchor="middle" fill="#f2f2f2" stroke="#f2f2f2" stroke-width="0.3" >Pavilion (South)</text>
<text x="472.00" y="466.50" font-size="6.44" text-anchor="start" fill="#f2f2f2" stroke="#f2f2f2" stroke-width="0.3" >具服台</text>
<text x="472.00" y="472.50" font-size="7" text-anchor="start" fill="#f2f2f2" stroke="#f2f2f2" stroke-width="0.3" >Dressing Terace</text>
<text x="444.00" y="524.50" font-size="7.2" text-anchor="start" fill="#f2f2f2" stroke="#f2f2f2" stroke-width="0.3" >南门South Gate</text>
<text x="614.70" y="488.00" font-size="6.44" text-anchor="start" fill="#f2f2f2" stroke="#f2f2f2" stroke-width="0.3" >泰元门</text>
<text x="614.70" y="495.00" font-size="7" text-anchor="start" fill="#f2f2f2" stroke="#f2f2f2" stroke-width="0.3" >Taiyuan Gate</text>
<text x="120.00" y="489.20" font-size="6.44" text-anchor="middle" fill="#f2f2f2" stroke="#f2f2f2" stroke-width="0.3" >广利门</text>
<text x="120.00" y="496.20" font-size="7" text-anchor="middle" fill="#f2f2f2" stroke="#f2f2f2" stroke-width="0.3" >Guangli Gate</text>
</svg>
</body></html>
